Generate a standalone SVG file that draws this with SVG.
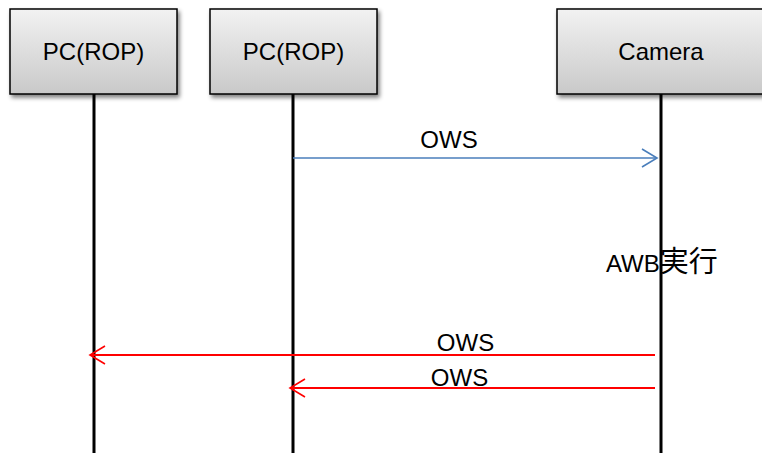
<svg xmlns="http://www.w3.org/2000/svg" width="762" height="453" viewBox="0 0 762 453">
<defs>
<linearGradient id="g" x1="0" y1="0" x2="0" y2="1">
<stop offset="0" stop-color="#f2f2f2"/>
<stop offset="1" stop-color="#c9c9c9"/>
</linearGradient>
<filter id="sh" x="-10%" y="-10%" width="130%" height="130%">
<feGaussianBlur in="SourceAlpha" stdDeviation="2"/>
<feOffset dx="2" dy="3" result="b"/>
<feComponentTransfer><feFuncA type="linear" slope="0.5"/></feComponentTransfer>
<feMerge><feMergeNode/><feMergeNode in="SourceGraphic"/></feMerge>
</filter>
<marker id="ab" markerWidth="20" markerHeight="22" refX="16" refY="10" orient="auto" markerUnits="userSpaceOnUse">
<path d="M1,1 L16,10 L1,19" fill="none" stroke="#4a7ebb" stroke-width="1.6"/>
</marker>
<marker id="ar" markerWidth="20" markerHeight="22" refX="16" refY="10" orient="auto" markerUnits="userSpaceOnUse">
<path d="M1,1 L16,10 L1,19" fill="none" stroke="#ff0000" stroke-width="1.6"/>
</marker>
</defs>
<style>
.box{fill:url(#g);stroke:#000;stroke-width:1.5;filter:url(#sh)}
.t{font-family:"Liberation Sans",Arial,"Noto Sans CJK JP",sans-serif;font-size:24px;fill:#000}
.life{stroke:#000;stroke-width:3}
</style>
<rect width="762" height="453" fill="#fff"/>
<g id="lifelines">
<line class="life" x1="94" y1="94" x2="94" y2="453"/>
<line class="life" x1="293" y1="94" x2="293" y2="453"/>
<line class="life" x1="661" y1="94" x2="661" y2="453"/>
</g>
<g id="node-pc1">
<rect class="box" x="10" y="9" width="167" height="85"/>
<text class="t" x="93.5" y="60" text-anchor="middle">PC(ROP)</text>
</g>
<g id="node-pc2">
<rect class="box" x="210" y="9" width="167" height="85"/>
<text class="t" x="293.5" y="60" text-anchor="middle">PC(ROP)</text>
</g>
<g id="node-camera">
<rect class="box" x="557" y="9" width="210" height="85"/>
<text class="t" x="661" y="60" text-anchor="middle">Camera</text>
</g>
<g id="connectors">
<line x1="293" y1="158" x2="657" y2="158" stroke="#4a7ebb" stroke-width="1.6" marker-end="url(#ab)"/>
<text class="t" x="449" y="148" text-anchor="middle">OWS</text>
<line x1="655" y1="355" x2="90" y2="355" stroke="#ff0000" stroke-width="2" marker-end="url(#ar)"/>
<text class="t" x="465.5" y="351" text-anchor="middle">OWS</text>
<line x1="655" y1="388" x2="290" y2="388" stroke="#ff0000" stroke-width="2" marker-end="url(#ar)"/>
<text class="t" x="459.5" y="386" text-anchor="middle">OWS</text>
</g>
<g id="note">
<text class="t" x="606" y="272">AWB<tspan font-size="29">実行</tspan></text>
</g>
</svg>
